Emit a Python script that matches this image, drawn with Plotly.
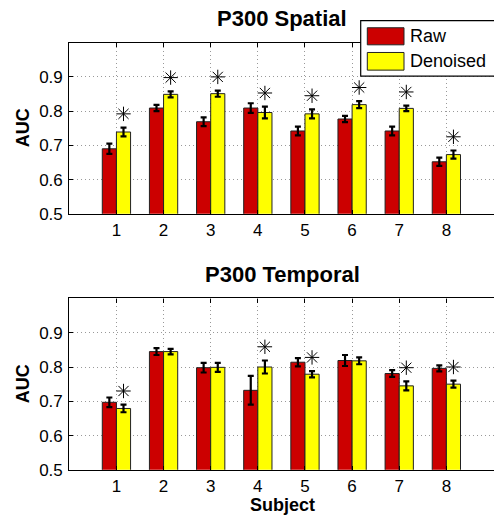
import plotly.graph_objects as go

subjects = [1, 2, 3, 4, 5, 6, 7, 8]
tick_labels = ["1", "2", "3", "4", "5", "6", "7", "8"]

spatial_raw = [0.690, 0.809, 0.769, 0.809, 0.742, 0.777, 0.742, 0.652]
spatial_raw_err = [0.015, 0.009, 0.013, 0.014, 0.013, 0.009, 0.013, 0.012]
spatial_den = [0.739, 0.849, 0.851, 0.796, 0.792, 0.819, 0.808, 0.673]
spatial_den_err = [0.013, 0.009, 0.009, 0.017, 0.013, 0.010, 0.008, 0.012]
spatial_sig = [True, True, True, True, True, True, True, True]

temporal_raw = [0.697, 0.845, 0.798, 0.732, 0.814, 0.819, 0.781, 0.796]
temporal_raw_err = [0.014, 0.010, 0.014, 0.042, 0.012, 0.016, 0.010, 0.009]
temporal_den = [0.679, 0.845, 0.799, 0.800, 0.779, 0.818, 0.745, 0.750]
temporal_den_err = [0.011, 0.008, 0.013, 0.019, 0.009, 0.010, 0.013, 0.010]
temporal_sig = [True, False, False, True, True, False, True, True]

W, H = 494, 522
RED = "#CC0000"
YEL = "#FFFF00"
FONT = "Liberation Sans, Arial, sans-serif"

def px(x):
    return x / W

def py(y):
    return 1 - y / H

fig = go.Figure()

panels = [
    ("x", "y", spatial_raw, spatial_raw_err, spatial_den, spatial_den_err, spatial_sig),
    ("x2", "y2", temporal_raw, temporal_raw_err, temporal_den, temporal_den_err, temporal_sig),
]

for xa, ya, raw, rerr, den, derr, sig in panels:
    fig.add_trace(go.Bar(
        x=subjects, y=raw, xaxis=xa, yaxis=ya, name="Raw",
        marker=dict(color=RED, line=dict(color="#222222", width=1)),
        error_y=dict(type="data", array=rerr, color="black", thickness=2.2, width=3),
        showlegend=False,
    ))
    fig.add_trace(go.Bar(
        x=subjects, y=den, xaxis=xa, yaxis=ya, name="Denoised",
        marker=dict(color=YEL, line=dict(color="#222222", width=1)),
        error_y=dict(type="data", array=derr, color="black", thickness=2.2, width=3),
        showlegend=False,
    ))
    sx = [s + 0.15 for s, g in zip(subjects, sig) if g]
    sy = [d + e + 0.04 for d, e, g in zip(den, derr, sig) if g]
    fig.add_trace(go.Scatter(
        x=sx, y=sy, xaxis=xa, yaxis=ya, mode="markers",
        marker=dict(symbol="asterisk-open", size=12, color="black",
                    line=dict(color="black", width=1)),
        showlegend=False, hoverinfo="skip",
    ))

xdom = [px(69.3), px(493.5)]
top_dom = [py(218), py(43.5)]
bot_dom = [py(479), py(304.3)]

GRID = dict(showgrid=True, gridcolor="#999999", griddash="1px,3px", gridwidth=1)

xcommon = dict(
    range=[0, 9], tickvals=subjects, ticktext=tick_labels, **GRID,
    showline=True, linecolor="black", linewidth=1.2, mirror="ticks",
    ticks="inside", ticklen=4, tickcolor="black",
    tickfont=dict(family=FONT, size=17, color="black"),
    zeroline=False, domain=xdom, fixedrange=True, ticklabelstandoff=1,
)
ycommon = dict(
    range=[0.5, 1.0], tickvals=[0.5, 0.6, 0.7, 0.8, 0.9],
    ticktext=["0.5", "0.6", "0.7", "0.8", "0.9"], **GRID,
    showline=True, linecolor="black", linewidth=1.2, mirror=False,
    ticks="inside", ticklen=4, tickcolor="black",
    tickfont=dict(family=FONT, size=17, color="black"),
    zeroline=False, fixedrange=True, ticklabelstandoff=2,
)

fig.update_layout(
    width=W, height=H, margin=dict(l=0, r=0, t=0, b=0),
    paper_bgcolor="white", plot_bgcolor="white",
    barmode="group", bargap=0.4, bargroupgap=0,
    xaxis=dict(**xcommon, anchor="y"),
    yaxis=dict(**ycommon, domain=top_dom, anchor="x"),
    xaxis2=dict(**xcommon, anchor="y2"),
    yaxis2=dict(**ycommon, domain=bot_dom, anchor="x2"),
    showlegend=False,
)

ann = []
ann.append(dict(text="<b>P300 Spatial</b>", x=px(282), y=py(19), xref="paper", yref="paper",
                xanchor="center", yanchor="middle", showarrow=False,
                font=dict(family=FONT, size=22, color="black")))
ann.append(dict(text="<b>P300 Temporal</b>", x=px(282), y=py(280), xref="paper", yref="paper",
                xanchor="center", yanchor="middle", showarrow=False,
                font=dict(family=FONT, size=22, color="black")))
for yc in [(43.5 + 218) / 2, (304.3 + 479) / 2]:
    ann.append(dict(text="<b>AUC</b>", x=px(23), y=py(yc), xref="paper", yref="paper",
                    xanchor="center", yanchor="middle", showarrow=False, textangle=-90,
                    font=dict(family=FONT, size=18, color="black")))
ann.append(dict(text="<b>Subject</b>", x=px(282), y=py(515), xref="paper", yref="paper",
                xanchor="center", yanchor="middle", showarrow=False,
                font=dict(family=FONT, size=18, color="black")))

# legend box (drawn manually to match the reference's large swatches)
shapes = []
shapes.append(dict(type="rect", xref="paper", yref="paper",
                   x0=px(360.7), x1=1.05, y0=py(77.7), y1=py(21),
                   fillcolor="white", line=dict(color="black", width=1.2), layer="above"))
legend_items = [("Raw", RED, 28.3, 45.7), ("Denoised", YEL, 53.5, 71.5)]
for name, col, y0, y1 in legend_items:
    shapes.append(dict(type="rect", xref="paper", yref="paper",
                       x0=px(367.3), x1=px(404), y0=py(y1), y1=py(y0),
                       fillcolor=col, line=dict(color="#222222", width=1), layer="above"))
    ann.append(dict(text=name, x=px(407.5), y=py((y0 + y1) / 2), xref="paper", yref="paper",
                    xanchor="left", yanchor="middle", showarrow=False,
                    font=dict(family=FONT, size=18, color="black")))

fig.update_layout(annotations=ann, shapes=shapes)

fig.write_html("out.html")
